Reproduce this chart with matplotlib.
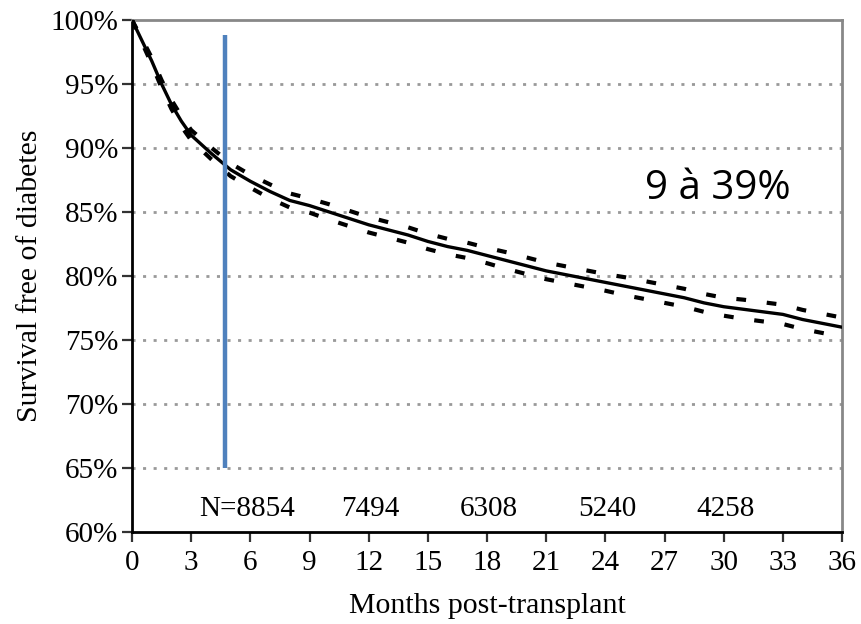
import matplotlib
matplotlib.use("Agg")
import matplotlib.pyplot as plt
from matplotlib.ticker import PercentFormatter

plt.rcParams["lines.scale_dashes"] = False

# survival curve (months, % free of diabetes)
months = [0, 0.5, 1, 1.5, 2, 2.5, 3, 4, 5, 6, 7, 8, 9, 10, 11, 12, 13, 14, 15, 16, 17, 18,
          19, 20, 21, 22, 23, 24, 25, 26, 27, 28, 29, 30, 31, 32, 33, 34, 35, 36]
survival = [100, 98.4, 96.8, 95.0, 93.4, 92.1, 91.0, 89.6, 88.3, 87.4, 86.6, 85.9, 85.5, 85.0,
            84.5, 84.0, 83.6, 83.2, 82.7, 82.3, 82.0, 81.6, 81.2, 80.8, 80.4, 80.1, 79.8, 79.5,
            79.2, 78.9, 78.6, 78.3, 77.9, 77.6, 77.4, 77.2, 77.0, 76.6, 76.3, 76.0]
upper = [100, 98.55, 97.05, 95.3, 93.75, 92.5, 91.4, 90.05, 88.8, 87.9, 87.15, 86.45, 86.05,
         85.6, 85.1, 84.6, 84.2, 83.8, 83.3, 82.9, 82.6, 82.2, 81.85, 81.45, 81.05, 80.75,
         80.45, 80.15, 79.9, 79.6, 79.3, 79.0, 78.6, 78.3, 78.15, 77.95, 77.75, 77.35, 77.05, 76.75]
lower = [100, 98.25, 96.55, 94.7, 93.05, 91.7, 90.6, 89.15, 87.8, 86.9, 86.05, 85.35, 84.95,
         84.4, 83.9, 83.4, 83.0, 82.6, 82.1, 81.7, 81.4, 81.0, 80.55, 80.15, 79.75, 79.45,
         79.15, 78.85, 78.5, 78.2, 77.9, 77.6, 77.2, 76.9, 76.65, 76.45, 76.25, 75.85, 75.55, 75.25]

n_months = [5.85, 12.1, 18.1, 24.1, 30.1]
n_labels = ["N=8854", "7494", "6308", "5240", "4258"]

x_ticks = list(range(0, 37, 3))
y_ticks = list(range(60, 101, 5))

serif = "Liberation Serif"

fig = plt.figure(figsize=(8.61, 6.24), dpi=100)
ax = fig.add_axes([0.1533, 0.1474, 0.8247, 0.8206])

for y in y_ticks[1:-1]:
    ax.axhline(y, color="#999999", lw=2, dashes=(2.2, 5.4), zorder=1)

ax.plot(months, upper, color="black", lw=3, dashes=(7, 15), zorder=3)
ax.plot(months, lower, color="black", lw=3, dashes=(7, 15), zorder=3)
ax.plot(months, survival, color="black", lw=2.4, zorder=4)

ax.vlines(4.7, 65, 98.8, color="#4F81BD", lw=3.2, zorder=5)

for xm, lab in zip(n_months, n_labels):
    ax.text(xm, 61.8, lab, ha="center", va="center", fontsize=21, family=serif)

ax.text(29.7, 86.8, "9 à 39%", ha="center", va="center", fontsize=29, family="Open Sans")

ax.set_xlim(0, 36)
ax.set_ylim(60, 100)
ax.set_xticks(x_ticks)
ax.set_yticks(y_ticks)
ax.yaxis.set_major_formatter(PercentFormatter(decimals=0))
for lab in ax.get_xticklabels() + ax.get_yticklabels():
    lab.set_family(serif)
    lab.set_fontsize(21)
ax.tick_params(axis="x", direction="out", length=7, width=1.6, color="#333333", pad=6)
ax.tick_params(axis="y", direction="out", length=7, width=1.6, color="#333333", pad=3)

for side in ["left", "bottom"]:
    ax.spines[side].set_color("black")
    ax.spines[side].set_linewidth(2)
for side in ["top", "right"]:
    ax.spines[side].set_color("#888888")
    ax.spines[side].set_linewidth(2)

ax.set_xlabel("Months post-transplant", family=serif, fontsize=21.5, labelpad=12)
ax.set_ylabel("Survival free of diabetes", family=serif, fontsize=21.5, labelpad=5)

fig.savefig("out.png", dpi=100)
